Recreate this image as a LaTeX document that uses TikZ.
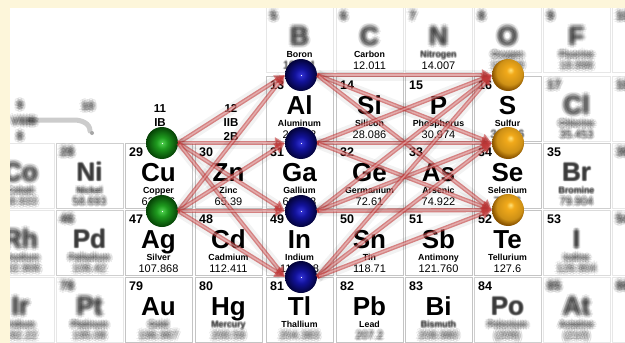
\documentclass[tikz,border=0pt]{standalone}
\usepackage{fontspec}
\setmainfont{Liberation Sans}
\usetikzlibrary{arrows.meta,calc}
\definecolor{cream}{HTML}{FDF6DA}
\definecolor{cellline}{HTML}{C4C4C4}
\definecolor{linkred}{HTML}{C23838}
\definecolor{gHi}{HTML}{4CCB4C}
\definecolor{gMid}{HTML}{1E9A1E}
\definecolor{gDark}{HTML}{064206}
\definecolor{bHi}{HTML}{3030D0}
\definecolor{bMid}{HTML}{12129A}
\definecolor{bDark}{HTML}{03033A}
\definecolor{yHi}{HTML}{FFE27A}
\definecolor{yMid}{HTML}{F2AA1A}
\definecolor{yDark}{HTML}{8A5400}
\pgfdeclareradialshading{sphgreen}{\pgfpoint{0bp}{0bp}}{color(0bp)=(white);
  color(1.2bp)=(gHi);color(9bp)=(gMid);color(25bp)=(gDark);color(50bp)=(gDark)}
\pgfdeclareradialshading{sphblue}{\pgfpoint{0bp}{0bp}}{color(0bp)=(white);
  color(1.2bp)=(bHi);color(10bp)=(bMid);color(25bp)=(bDark);color(50bp)=(bDark)}
\pgfdeclareradialshading{sphgold}{\pgfpoint{4bp}{8bp}}{color(0bp)=(yHi);
  color(6bp)=(yMid);color(20bp)=(yMid!85!black);color(27bp)=(yDark);color(50bp)=(yDark)}
% blurred copies of a text node: name, position, blur level, style, text
\newcommand\fuzz[5]{%
  \ifnum#3=0\relax
    \node[#4] (#1) at #2 {#5};
  \else
    \node[#4,opacity=.1] (#1) at #2 {#5};
    \foreach \a in {0,45,...,315}{
      \node[#4,opacity=.08] (#1-\a) at ($#2+(\a:#3*1.1)$) {#5};
      \node[#4,opacity=.08] (#1-\a-in) at ($#2+(\a+22.5:#3*0.55)$) {#5};}
  \fi}
\tikzset{
  cellbox/.style={draw=cellline,line width=1pt},
  numtext/.style={font=\bfseries\fontsize{12.5}{14}\selectfont,anchor=base west,inner sep=0pt},
  symtext/.style={font=\bfseries\fontsize{26}{28}\selectfont,anchor=base,inner sep=0pt},
  namtext/.style={font=\bfseries\fontsize{8.8}{10}\selectfont,anchor=base,inner sep=0pt},
  masstext/.style={font=\fontsize{11}{12}\selectfont,anchor=base,inner sep=0pt},
  grouptext/.style={font=\bfseries\fontsize{11.5}{13}\selectfont,anchor=base,inner sep=0pt},
  bracket/.style={draw=black!20,line width=5pt,line cap=round},
  sphere/.style={circle,minimum size=32pt,inner sep=0pt,shade},
  link/.style={draw=linkred,line width=4.2pt,opacity=.6,-{Triangle[length=10pt,width=11pt]},
    preaction={draw=black,opacity=.05,line width=11pt,arrows=-,shorten >=4pt}},
  linkcore/.style={draw=white,line width=1.4pt,opacity=.35,shorten >=10pt,shorten <=2pt}}
\begin{document}
\begin{tikzpicture}[x=1pt,y=-1pt]
\useasboundingbox (0,0) rectangle (625,343);
\fill[cream] (0,0) rectangle (625,343);
\fill[white] (10,8) rectangle (625,343);
\begin{scope}
\clip (10,8) rectangle (625,343);
% cells
\foreach \cx/\cy/\num/\sym/\nam/\mass/\bn/\bs/\bl/\bm in {
  265/6/5/B/Boron/10.811/3/3/0/1, 335/6/6/C/Carbon/12.011/3/3/0/0,
  404/6/7/N/Nitrogen/14.007/3/3/1/0, 473/6/8/O/Oxygen/15.999/3/3/3/3,
  542/6/9/F/Fluorine/18.998/3/3/3/3, 611/6/10/Ne/Neon/20.180/3/3/3/3,
  265/75/13/Al/Aluminum/26.982/0/0/0/0, 335/75/14/Si/Silicon/28.086/0/0/0/0,
  404/75/15/P/Phosphorus/30.974/0/0/0/0, 473/75/16/S/Sulfur/32.066/0/0/0/1,
  542/75/17/Cl/Chlorine/35.453/3/3/3/2, 611/75/18/Ar/Argon/39.948/3/3/3/3,
  -14/142/27/Co/Cobalt/58.933/3/3/3/3, 55/142/28/Ni/Nickel/58.693/3/1/2/2,
  124/142/29/Cu/Copper/63.546/0/0/0/0, 194/142/30/Zn/Zinc/65.39/0/0/0/0,
  265/142/31/Ga/Gallium/69.723/0/0/0/0, 335/142/32/Ge/Germanium/72.61/0/0/0/0,
  404/142/33/As/Arsenic/74.922/0/0/0/0, 473/142/34/Se/Selenium/78.96/0/0/0/1,
  542/142/35/Br/Bromine/79.904/0/1/1/2, 611/142/36/Kr/Krypton/83.80/3/3/3/3,
  -14/209/45/Rh/Rhodium/102.906/3/3/3/3, 55/209/46/Pd/Palladium/106.42/3/1/3/3,
  124/209/47/Ag/Silver/107.868/0/0/0/0, 194/209/48/Cd/Cadmium/112.411/0/0/0/0,
  265/209/49/In/Indium/114.818/0/0/0/0, 335/209/50/Sn/Tin/118.71/0/0/0/0,
  404/209/51/Sb/Antimony/121.760/0/0/0/0, 473/209/52/Te/Tellurium/127.6/0/0/0/0,
  542/209/53/I/Iodine/126.904/0/2/3/3, 611/209/54/Xe/Xenon/131.29/3/3/3/3,
  -14/276/77/Ir/Iridium/192.22/3/3/3/3, 55/276/78/Pt/Platinum/195.08/3/3/3/3,
  124/276/79/Au/Gold/196.967/0/0/3/3, 194/276/80/Hg/Mercury/200.59/0/0/1/3,
  265/276/81/Tl/Thallium/204.383/0/0/0/3, 335/276/82/Pb/Lead/207.2/0/0/0/2,
  404/276/83/Bi/Bismuth/208.980/0/0/1/3, 473/276/84/Po/Polonium/{(209)}/0/1/3/3,
  542/276/85/At/Astatine/{(210)}/3/3/3/3, 611/276/86/Rn/Radon/{(222)}/3/3/3/3}{
  \pgfmathsetmacro\fo{1-0.2*\bs}
  \draw[cellbox,draw opacity=\fo] (\cx+1,\cy+1) rectangle (\cx+68,\cy+66);
  \fuzz{\sym-num}{(\cx+5,\cy+14)}{\bn}{numtext}{\num}
  \fuzz{\sym-sym}{(\cx+34.5,\cy+39)}{\bs}{symtext}{\sym}
  \fuzz{\sym-nam}{(\cx+34.5,\cy+51.5)}{\bl}{namtext}{\nam}
  \fuzz{\sym-mass}{(\cx+34.5,\cy+63)}{\bm}{masstext}{\mass}
}
% group labels
\node[grouptext] (g11) at (160,112) {11};
\node[grouptext] (g11r) at (160,126) {IB};
\node[grouptext] (g12) at (231,112) {12};
\node[grouptext] (g12r) at (231,126) {IIB};
\node[grouptext] (g12c) at (231,140) {2B};
% blurred key bracket
\draw[bracket] (30,120) -- (74,120) to[out=0,in=90] (90,131);
\fill[black!35] (92,133) circle (2);
\fuzz{k9}{(20,109)}{3}{grouptext}{9}
\fuzz{kviii}{(24,125)}{3}{grouptext}{VIIIB}
\fuzz{k8}{(20,140)}{3}{grouptext}{8}
\fuzz{k10}{(88,110)}{3}{grouptext}{10}
\end{scope}
% atoms
\node[sphere,shading=sphgreen] (Cu) at (162,143) {};
\node[sphere,shading=sphgreen] (Ag) at (162,211) {};
\node[sphere,shading=sphblue] (Al) at (301,75) {};
\node[sphere,shading=sphblue] (Ga) at (301,143) {};
\node[sphere,shading=sphblue] (In) at (301,211) {};
\node[sphere,shading=sphblue] (Tl) at (301,277) {};
\node[sphere,shading=sphgold] (S) at (508,75) {};
\node[sphere,shading=sphgold] (Se) at (508,143) {};
\node[sphere,shading=sphgold] (Te) at (508,210) {};
% bonds
\foreach \s in {Cu,Ag}
  \foreach \t in {Al,Ga,In,Tl}{
    \draw[link] (\s.east) -- (\t.west);
    \draw[linkcore] (\s.east) -- (\t.west);}
\foreach \s in {Al,Ga,In,Tl}
  \foreach \t in {S,Se,Te}{
    \draw[link] (\s.east) -- (\t.west);
    \draw[linkcore] (\s.east) -- (\t.west);}
\end{tikzpicture}
\end{document}
